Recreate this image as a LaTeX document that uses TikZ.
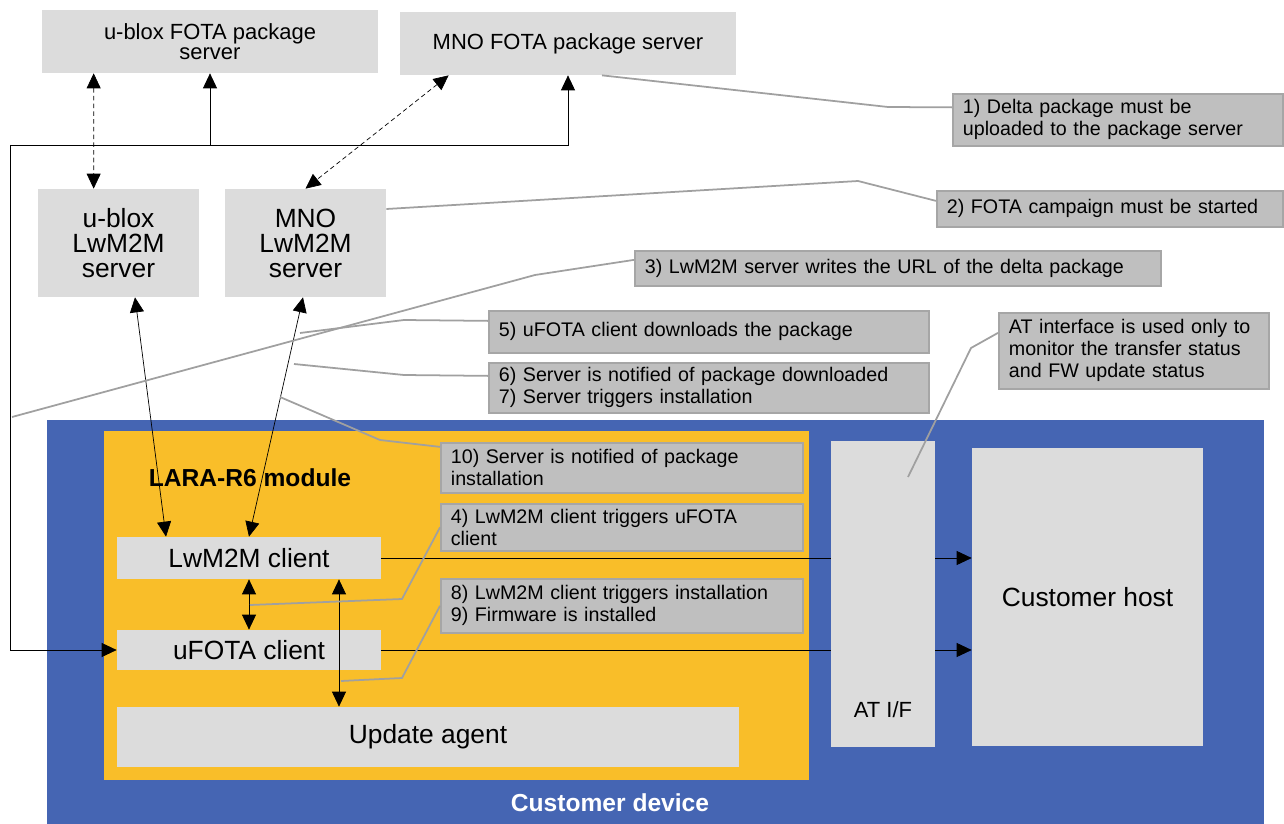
\documentclass[tikz,border=0pt]{standalone}
\usepackage{fontspec}
\setmainfont{Liberation Sans}
\usepackage{tikz}
\usetikzlibrary{arrows.meta}
\usepackage{xcolor}
\definecolor{boxgray}{HTML}{DCDCDC}
\definecolor{notefill}{HTML}{BFBFBF}
\definecolor{notedraw}{HTML}{A6A6A6}
\definecolor{calloutgray}{HTML}{A0A0A0}
\definecolor{devblue}{HTML}{4565B3}
\definecolor{larayellow}{HTML}{F9BE29}

\begin{document}
\begin{tikzpicture}[x=0.02cm,y=-0.02cm,
        box/.style={fill=boxgray, inner sep=0pt, align=center},
        big/.style={font=\fontsize{15}{14.2}\selectfont},
        note/.style={draw=notedraw, fill=notefill, line width=1pt, inner xsep=0.2cm, inner ysep=0pt,
            align=left, anchor=north west, font=\fontsize{11.2}{12.5}\selectfont},
        callout/.style={draw=calloutgray, line width=1pt},
        arr/.style={-{Triangle[length=0.3cm,width=0.28cm]}},
        both/.style={{Triangle[length=0.3cm,width=0.28cm]}-{Triangle[length=0.3cm,width=0.28cm]}}]
        \useasboundingbox (0,0) rectangle (1284,824);
        % customer device and module
        \fill[devblue] (47,420) rectangle (1264,824);
        \fill[larayellow] (104,431) rectangle (809,780);
        \node[white, font=\bfseries\fontsize{14}{16}\selectfont] (devlabel) at (610,803) {Customer device};
        \node[font=\bfseries\fontsize{14}{16}\selectfont] (laralabel) at (250,478) {LARA-R6 module};

        % servers
        \node[box, minimum width=6.72cm, minimum height=1.26cm, font=\fontsize{12.5}{11.5}\selectfont] (ubfota) at (210,41.5) {u-blox FOTA package\\server};
        \node[box, minimum width=6.72cm, minimum height=1.26cm, font=\fontsize{12.5}{11.5}\selectfont] (mnofota) at (568,43.5) {MNO FOTA package server};
        \node[box, big, minimum width=3.22cm, minimum height=2.16cm] (ublwm) at (118.5,243) {u-blox\\LwM2M\\server};
        \node[box, big, minimum width=3.22cm, minimum height=2.16cm] (mnolwm) at (305.5,243) {MNO\\LwM2M\\server};

        % module blocks
        \node[box, big, minimum width=5.28cm, minimum height=0.84cm] (lwclient) at (249,558) {LwM2M client};
        \node[box, big, minimum width=5.28cm, minimum height=0.8cm] (ufclient) at (249,650) {uFOTA client};
        \node[box, big, minimum width=12.44cm, minimum height=1.2cm] (agent) at (428,737) {Update agent};
        \node[box, big, minimum width=4.62cm, minimum height=5.96cm] (host) at (1087.5,597) {Customer host};

        \draw[arr] (lwclient.east) -- (lwclient.east -| host.west);
        \draw[arr] (ufclient.east) -- (ufclient.east -| host.west);
        \node[box, minimum width=2.08cm, minimum height=6.12cm,
            label={[anchor=center, yshift=0.76cm, font=\fontsize{12.5}{14}\selectfont]south:AT I/F}] (atif) at (883,594) {};

        % links
        \coordinate (bus) at (10,145);
        \draw[arr] (bus) |- (ufclient.west);
        \draw[arr] (bus) -| (mnofota.south);
        \draw[arr] (bus -| ubfota.south) -- (ubfota.south);
        \draw[both, dash pattern=on 2.6pt off 1.8pt] ([xshift=1.04cm]ubfota.south west) -- ([xshift=1.12cm]ublwm.north west);
        \draw[both, dash pattern=on 2.6pt off 1.8pt] ([xshift=0.98cm]mnofota.south west) -- (mnolwm.north);
        \draw[both] ([xshift=0.33cm]ublwm.south) -- ([xshift=-1.66cm]lwclient.north);
        \draw[both] ([xshift=-0.05cm]mnolwm.south) -- (lwclient.north);
        \draw[both] (lwclient.south) -- (ufclient.north);
        \draw[both] ([xshift=1.8cm]lwclient.south) coordinate (ua) -- (ua |- agent.north);

        % notes
        \node[note, text width=6.2cm, minimum height=1.04cm] (n1) at (952,93) {1) Delta package must be\\uploaded to the package server};
        \node[note, text width=6.52cm, minimum height=0.72cm] (n2) at (936,190) {2) FOTA campaign must be started};
        \node[note, text width=10.12cm, minimum height=0.7cm] (n3) at (634,250) {3) LwM2M server writes the URL of the delta package};
        \node[note, text width=8.4cm, minimum height=0.84cm] (n5) at (488,310) {5) uFOTA client downloads the package};
        \node[note, text width=8.4cm, minimum height=1.0cm] (n67) at (488,362) {6) Server is notified of package downloaded\\7) Server triggers installation};
        \node[note, text width=5.0cm, minimum height=1.52cm] (nat) at (998,312) {AT interface is used only to\\monitor the transfer status\\and FW update status};
        \node[note, text width=6.84cm, minimum height=1.0cm] (n10) at (440,442) {10) Server is notified of package\\installation};
        \node[note, text width=6.84cm, minimum height=0.94cm] (n4) at (440,503) {4) LwM2M client triggers uFOTA\\client};
        \node[note, text width=6.84cm, minimum height=1.08cm] (n89) at (440,578) {8) LwM2M client triggers installation\\9) Firmware is installed};

        % callout lines
        \draw[callout] ([xshift=0.68cm]mnofota.south) -- (888,107) -- ([yshift=0.25cm]n1.west);
        \draw[callout] ([yshift=0.68cm]mnolwm.east) -- (858,181) -- ([yshift=0.16cm]n2.west);
        \draw[callout] (12,417) -- (535,275) -- ([yshift=0.17cm]n3.west);
        \draw[callout] (300,333) -- (404,320) -- ([yshift=0.22cm]n5.west);
        \draw[callout] (294,364) -- (404,375) -- ([yshift=0.24cm]n67.west);
        \draw[callout] (280,397) -- (380,440) -- ([yshift=0.42cm]n10.west);
        \draw[callout] (250,605) -- (402,599) -- (n4.west);
        \draw[callout] (341,681) -- (402,678) -- (n89.west);
        \draw[callout] (908,477) -- (971,348) -- ([yshift=0.36cm]nat.west);
    \end{tikzpicture}
\end{document}
